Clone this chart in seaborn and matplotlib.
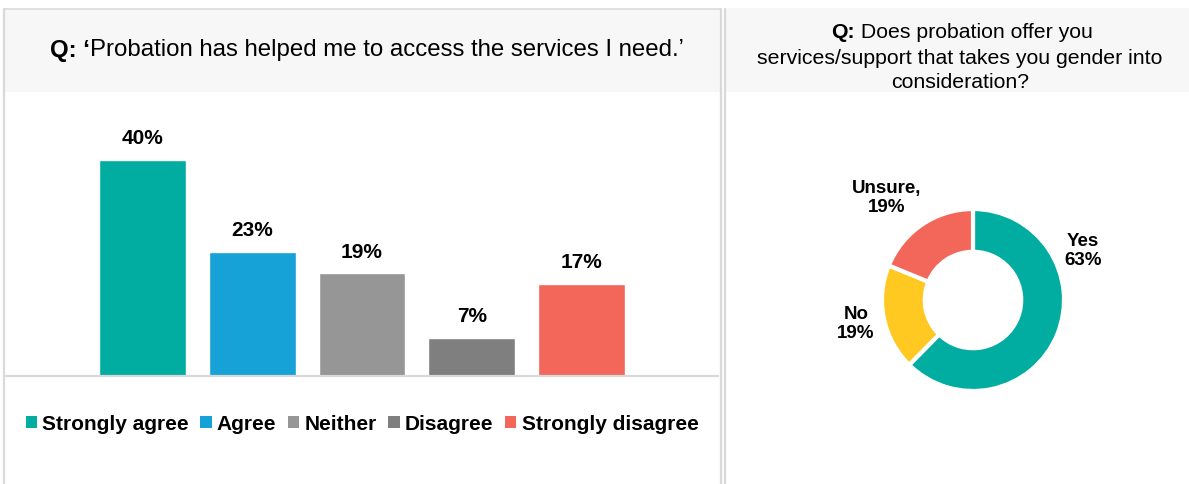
import matplotlib
matplotlib.use("Agg")
import matplotlib.pyplot as plt
from matplotlib.patches import Rectangle, Patch
from matplotlib.lines import Line2D
import seaborn as sns
import pandas as pd

# ---- data ----
agree_levels = ["Strongly agree", "Agree", "Neither", "Disagree", "Strongly disagree"]
agree_pct = [40, 23, 19, 7, 17]
agree_colors = ["#00ADA0", "#16A1D7", "#969696", "#7F7F7F", "#F2675A"]

gender_answers = ["Yes", "No", "Unsure"]
gender_pct = [63, 19, 19]
gender_colors = ["#00ADA0", "#FFC921", "#F2675A"]
gender_labels = ["Yes\n63%", "No\n19%", "Unsure,\n19%"]

left_title_bold = "Q: \u2018"
left_title_rest = "Probation has helped me to access the services I need.\u2019"
right_title_bold = "Q:"
right_title_lines = [" Does probation offer you",
                     "services/support that takes you gender into",
                     "consideration?"]

# ---- figure ----
W, H = 1189, 484
sns.set_style("white")
plt.rcParams["font.family"] = ["Liberation Sans", "DejaVu Sans"]
plt.rcParams["text.color"] = "black"
fig = plt.figure(figsize=(W / 100, H / 100), dpi=100)
fig.patch.set_facecolor("white")


def fx(x):
    return x / W


def fy(y):
    return 1 - y / H


def px_axes(x0, y0, x1, y1):
    return fig.add_axes([fx(x0), fy(y1), (x1 - x0) / W, (y1 - y0) / H])


BAND = "#F7F7F7"
EDGE = "#D9D9D9"

# title bands
fig.add_artist(Rectangle((fx(5), fy(92)), (721 - 5) / W, (92 - 10) / H,
                         transform=fig.transFigure, facecolor=BAND, edgecolor="none", zorder=0))
fig.add_artist(Rectangle((fx(726), fy(92)), (W - 726) / W, (92 - 8) / H,
                         transform=fig.transFigure, facecolor=BAND, edgecolor="none", zorder=0))

# panel borders
for xs, ys, lw in [((4, 721), (9, 9), 1.2),
                   ((4, 4), (9, H), 1.6),
                   ((721, 721), (9, H), 1.6),
                   ((725, 725), (9, H), 1.6),
                   ((6, 718), (376, 376), 1.6)]:
    fig.add_artist(Line2D([fx(xs[0]), fx(xs[1])], [fy(ys[0]), fy(ys[1])],
                          transform=fig.transFigure, color=EDGE, lw=lw, zorder=1))

# ---- bar chart ----
ax = px_axes(87.5, 106, 636.5, 376)
df = pd.DataFrame({"level": agree_levels, "pct": agree_pct})
sns.barplot(data=df, x="level", y="pct", hue="level", order=agree_levels,
            hue_order=agree_levels, palette=agree_colors, saturation=1,
            width=0.79, legend=False, ax=ax)
ax.set_xlim(-0.5, 4.5)
ax.set_ylim(0, 50)
ax.axis("off")
for cont in ax.containers:
    ax.bar_label(cont, fmt="{:.0f}%", padding=8.5, fontsize=15, fontweight="bold",
                 color="black")

handles = [Patch(facecolor=c, edgecolor="none") for c in agree_colors]
fig.legend(handles, agree_levels, loc="center", bbox_to_anchor=(fx(362), fy(424)),
           ncol=5, frameon=False, prop=dict(weight="bold", size=15),
           labelcolor="black",
           handlelength=0.55, handleheight=0.55, handletextpad=0.25,
           columnspacing=0.55, borderpad=0, borderaxespad=0)

# ---- donut ----
R = 91
cx, cy = 973, 300
axp = px_axes(cx - 1.1 * R, cy - 1.1 * R, cx + 1.1 * R, cy + 1.1 * R)
axp.pie(gender_pct, colors=gender_colors, startangle=90, counterclock=False,
        radius=1, wedgeprops=dict(width=0.47, edgecolor="white", linewidth=3))
axp.set_xlim(-1.1, 1.1)
axp.set_ylim(-1.1, 1.1)
axp.set_aspect("equal")
axp.axis("off")

label_pos = {"Yes": (1083, 251), "No": (856, 324), "Unsure": (887, 198)}
for ans, lab in zip(gender_answers, gender_labels):
    px, py = label_pos[ans]
    axp.text((px - cx) / R, (cy - py) / R, lab, ha="center", va="center",
             fontsize=13.5, fontweight="bold", linespacing=1.15, color="black")

# ---- titles ----
renderer = fig.canvas.get_renderer()


def mixed_title(bold, rest, xc, y, size):
    tb = fig.text(0, fy(y), bold, fontsize=size, fontweight="bold", va="center",
                  ha="left", color="black")
    tr = fig.text(0, fy(y), rest, fontsize=size, va="center", ha="left", color="black")
    wb = tb.get_window_extent(renderer).width
    wr = tr.get_window_extent(renderer).width
    x0 = xc - (wb + wr) / 2
    tb.set_x(fx(x0))
    tr.set_x(fx(x0 + wb))


mixed_title(left_title_bold, left_title_rest, 367, 50, 17.3)
mixed_title(right_title_bold, right_title_lines[0], 962, 32, 15.3)
fig.text(fx(960), fy(58), right_title_lines[1], fontsize=15.3, ha="center",
         va="center", color="black")
fig.text(fx(960), fy(83), right_title_lines[2], fontsize=15.3, ha="center",
         va="center", color="black")

fig.savefig("out.png", dpi=100, facecolor="white")
